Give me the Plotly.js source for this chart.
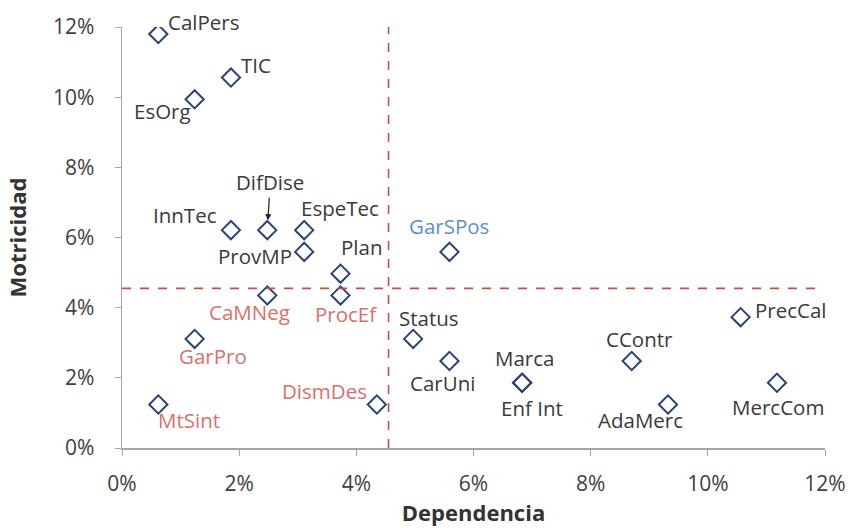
<!DOCTYPE html>
<html><head><meta charset="utf-8">
<script src="https://cdn.plot.ly/plotly-3.0.1.min.js"></script>
<style>html,body{margin:0;padding:0;background:#fff}#chart{width:848px;height:528px}</style>
</head><body><div id="chart"></div>
<script>
// Data (fractions)
const variables = ["CalPers","TIC","EsOrg","InnTec","DifDise","EspeTec","ProvMP","Plan","CaMNeg","ProcEf","GarPro","MtSint","DismDes","GarSPos","Status","CarUni","Marca","Enf Int","CContr","AdaMerc","PrecCal","MercCom"];
const dependencia = [0.0062,0.0186,0.0124,0.0186,0.0248,0.0311,0.0311,0.0373,0.0248,0.0373,0.0124,0.0062,0.0435,0.0559,0.0497,0.0559,0.0683,0.0683,0.0870,0.0932,0.1056,0.1118];
const motricidad  = [0.1180,0.1056,0.0994,0.0621,0.0621,0.0621,0.0559,0.0497,0.0435,0.0435,0.0311,0.0124,0.0124,0.0559,0.0311,0.0248,0.0186,0.0186,0.0248,0.0124,0.0373,0.0186];
const grupo = ["n","n","n","n","n","n","n","n","r","r","r","r","r","b","n","n","n","n","n","n","n","n"];
const umbralDependencia = 0.0455;
const umbralMotricidad = 0.0455;
const tickVals = [0,0.02,0.04,0.06,0.08,0.10,0.12];
const tickText = ["0%","2%","4%","6%","8%","10%","12%"];

// Label placement (styling only): [xshift, yshift, xanchor]
const labelPos = {
  "CalPers":[8,12,"left"], "TIC":[8,13,"left"], "EsOrg":[-2,-12,"right"],
  "InnTec":[-12,15,"right"], "EspeTec":[-5,22,"left"], "ProvMP":[-10,-4,"right"],
  "Plan":[-2,27,"left"], "CaMNeg":[-18,-17,"center"], "ProcEf":[5,-19,"center"],
  "GarPro":[18,-17,"center"], "MtSint":[-2,-15,"left"], "DismDes":[-8,14,"right"],
  "GarSPos":[0,26,"center"], "Status":[16,21,"center"], "CarUni":[-7,-22,"center"],
  "Marca":[2,25,"center"], "Enf Int":[10,-25,"center"], "CContr":[8,22,"center"],
  "AdaMerc":[-28,-15,"center"], "PrecCal":[12,7,"left"], "MercCom":[1,-24,"center"]
};
const colorMap = {n:"#3a3a3a", r:"#d9706c", b:"#5b8fd0"};
const FONT = "'Open Sans', 'Noto Sans', sans-serif";
const LABEL_SIZE = 20.5;

const annotations = variables.map((v,i)=>{
  if (v === "DifDise") {
    return {x:dependencia[i], y:motricidad[i], xref:"x", yref:"y", text:v, showarrow:true,
      ax:3, ay:-48, arrowhead:2, arrowsize:1, arrowwidth:1.2, arrowcolor:"#222", standoff:10,
      font:{family:FONT, size:LABEL_SIZE, color:colorMap[grupo[i]]}};
  }
  const p = labelPos[v];
  return {x:dependencia[i], y:motricidad[i], xref:"x", yref:"y", text:v, showarrow:false,
    xanchor:p[2], yanchor:"middle", xshift:p[0], yshift:p[1],
    font:{family:FONT, size:LABEL_SIZE, color:colorMap[grupo[i]]}};
});

const trace = {
  x: dependencia, y: motricidad, mode:"markers", type:"scatter",
  marker:{symbol:"diamond-open", size:14, color:"#2a4374", line:{width:2, color:"#2a4374"}},
  hoverinfo:"text", text: variables
};

const layout = {
  width:848, height:528,
  margin:{l:122, r:23, t:27, b:80},
  paper_bgcolor:"#fff", plot_bgcolor:"#fff",
  showlegend:false,
  font:{family:FONT, color:"#404040", size:16},
  xaxis:{range:[0,0.12], tickvals:tickVals, ticktext:tickText, showgrid:false, zeroline:false,
    showline:true, linecolor:"#a6a6a6", linewidth:1.5, ticks:"outside", ticklen:6, tickcolor:"#a6a6a6",
    ticklabelstandoff:10,
    tickfont:{size:21, color:"#404040", family:FONT},
    title:{text:"<b>Dependencia</b>", font:{size:22, color:"#333", family:FONT}, standoff:6}},
  yaxis:{range:[0,0.12], tickvals:tickVals, ticktext:tickText, showgrid:false, zeroline:false,
    showline:true, linecolor:"#a6a6a6", linewidth:1.5, ticks:"outside", ticklen:6, tickcolor:"#a6a6a6",
    ticklabelstandoff:16,
    tickfont:{size:21, color:"#404040", family:FONT},
    title:{text:"<b>Motricidad</b>", font:{size:22, color:"#333", family:FONT}, standoff:20}},
  shapes:[
    {type:"line", xref:"x", yref:"y", x0:umbralDependencia, x1:umbralDependencia, y0:0, y1:0.1205,
      line:{color:"#c0504d", width:1.6, dash:"dash"}},
    {type:"line", xref:"x", yref:"y", x0:0, x1:0.1195, y0:umbralMotricidad, y1:umbralMotricidad,
      line:{color:"#c0504d", width:1.6, dash:"dash"}}
  ],
  annotations: annotations
};

Plotly.newPlot("chart", [trace], layout, {displayModeBar:false, staticPlot:true});
</script></body></html>
